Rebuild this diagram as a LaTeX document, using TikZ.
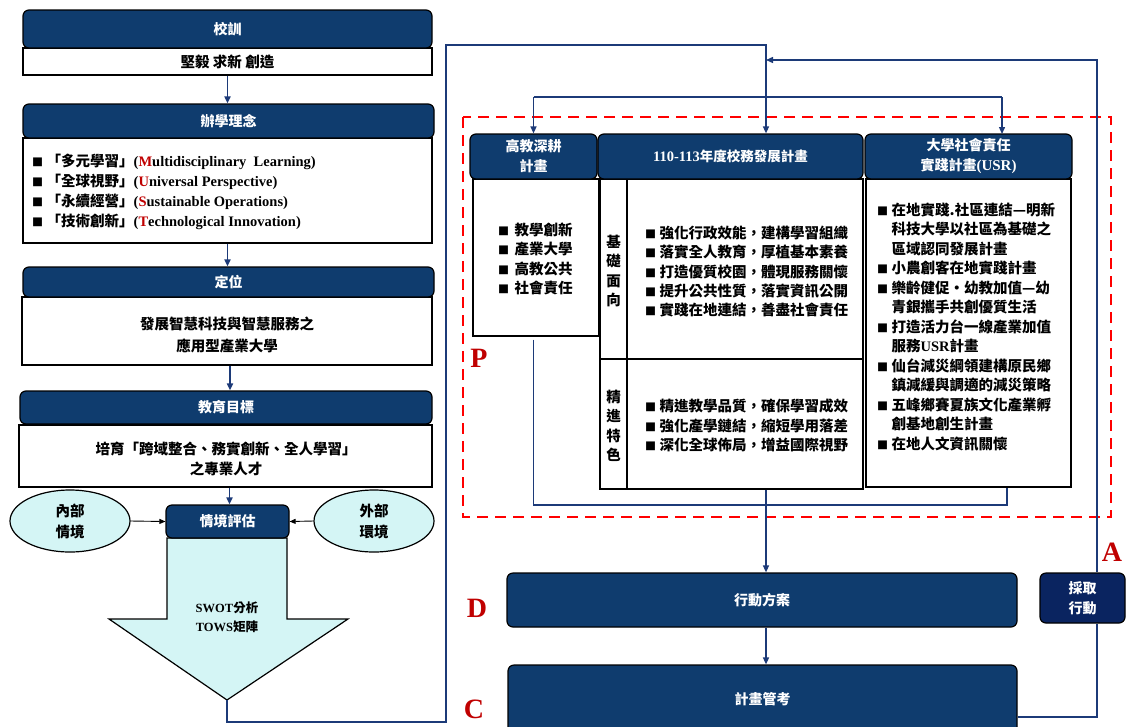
\documentclass[tikz,border=0pt]{standalone}
\usepackage{fontspec}
\setmainfont{Noto Sans CJK TC}
\newfontfamily\lat{Liberation Serif}
\usetikzlibrary{arrows.meta,calc,shapes.geometric}
\definecolor{navy}{HTML}{0F3C6E}
\definecolor{dnavy}{HTML}{0A2460}
\definecolor{lcyan}{HTML}{D4F5F5}
\definecolor{lnk}{HTML}{1C3A78}
\definecolor{mred}{HTML}{C00000}
\newcommand\fs[2]{\fontsize{#1}{#2}\selectfont}
\newcommand\Lt[1]{{\lat\bfseries #1}}
\newcommand\Rd[1]{\textcolor{mred}{#1}}
\newcommand\bul{\makebox[14.5pt][l]{\fs{11}{10}■}}
\newcommand\bulw{\makebox[16.5pt][l]{\fs{11}{10}■}}
\newcommand\ind{\hspace*{14.5pt}}
\begin{document}
\begin{tikzpicture}[x=1pt,y=-1pt,
 hdr/.style={draw=black, line width=1.2pt, fill=navy, rounded corners=6pt, text=white, inner sep=0pt, align=center, font=\bfseries\fs{14}{20}},
 wbox/.style={draw=black, line width=1.4pt, fill=white, inner sep=0pt},
 txt/.style={inner sep=0pt, align=center, font=\bfseries\fs{14.5}{20}},
 lst/.style={inner sep=0pt, align=left, anchor=west, font=\bfseries\fs{14.5}{19.5}},
 link/.style={draw=lnk, line width=1.4pt},
 arr/.style={link, -{Triangle[width=6pt,length=7pt]}},
 blk/.style={draw=black, line width=0.9pt, -{Triangle[width=5pt,length=6pt]}},
 oval/.style={ellipse, draw=black, line width=1.2pt, fill=lcyan, inner sep=0pt, minimum width=120pt, minimum height=62pt, align=center, font=\bfseries\fs{14.5}{21}},
 pdca/.style={text=mred, font=\lat\bfseries\fs{28}{28}, inner sep=0pt}
]
\path[use as bounding box] (0,0) rectangle (1126,726);
\clip (0,0) rectangle (1126,726);
\fill[white] (0,0) rectangle (1126,726);

% ---------- left column ----------
\node[wbox, minimum width=409pt, minimum height=27pt, font=\bfseries\fs{14.5}{20}] (bx1) at (227.5,61.5) {堅毅 求新 創造};
\node[hdr, minimum width=409pt, minimum height=38pt] (hd1) at (227.5,29) {校訓};

\node[wbox, minimum width=409pt, minimum height=105pt] (bx2) at (227.5,190.5) {};
\node[hdr, minimum width=411pt, minimum height=34pt] (hd2) at (228.5,121) {辦學理念};
\node[lst, font=\bfseries\fs{14.5}{20}] (l2) at (32,192) {%
\bul「多元學習」\Lt{(\Rd{M}ultidisciplinary\ \ Learning)}\\
\bul「全球視野」\Lt{(\Rd{U}niversal Perspective)}\\
\bul「永續經營」\Lt{(\Rd{S}ustainable Operations)}\\
\bul「技術創新」\Lt{(\Rd{T}echnological Innovation)}};

\node[wbox, minimum width=410pt, minimum height=68pt] (bx3) at (227,331) {};
\node[hdr, minimum width=411pt, minimum height=30pt] (hd3) at (228.5,282) {定位};
\node[txt, font=\bfseries\fs{14.5}{22}] (t3) at (227,335) {發展智慧科技與智慧服務之\\應用型產業大學};

\node[wbox, minimum width=413pt, minimum height=62pt] (bx4) at (225.5,456) {};
\node[hdr, minimum width=412pt, minimum height=33pt] (hd4) at (226,407.5) {教育目標};
\node[txt] (t4) at (226,459) {培育「跨域整合、務實創新、全人學習」\\之專業人才};

% big arrow
\draw[draw=black, line width=1.2pt, fill=lcyan] (167,538) -- (287,538) -- (287,619) -- (348,619) -- (227,700) -- (109,619) -- (167,619) -- cycle;
\coordinate (tip) at (227,700);
\node[txt, font=\bfseries\fs{12.5}{19}] (sw) at (227,617.5) {\Lt{SWOT}分析\\\Lt{TOWS}矩陣};
\node[hdr, minimum width=123pt, minimum height=33pt] (hd5) at (227.5,521.5) {情境評估};
\node[oval] (e1) at (70,521) {內部\\情境};
\node[oval] (e2) at (374,521) {外部\\環境};

\draw[arr, line width=1.8pt] (bx1.south) -- (bx1.south |- hd2.north);
\draw[arr, line width=1.8pt] (bx2.south) -- (bx2.south |- hd3.north);
\draw[arr, line width=1.8pt] ([xshift=3pt]bx3.south) -- ([xshift=3pt]bx3.south |- hd4.north);
\draw[arr, line width=1.8pt] ([xshift=4pt]bx4.south) -- ([xshift=4pt]bx4.south |- hd5.north);
\draw[blk] (e1.east) -- (hd5.west);
\draw[blk] (e2.west) -- (hd5.east);

% ---------- P block ----------
\draw[draw=red, line width=2.8pt, dash pattern=on 11pt off 7pt] (463,117) rectangle (1111,517);
\node[pdca] (P) at (479,358) {P};

\node[wbox, minimum width=126pt, minimum height=157pt] (bxL) at (536,257.5) {};
\node[hdr] (hdL) at (533.5,156.5) [minimum width=127pt, minimum height=45pt] {高教深耕\\計畫};
\node[lst] (lL) at (498,259) {\bulw 教學創新\\\bulw 產業大學\\\bulw 高教公共\\\bulw 社會責任};

\node[wbox, minimum width=27pt, minimum height=180pt] (lab1) at (613.5,269) {};
\node[wbox, minimum width=236pt, minimum height=180pt] (con1) at (745,269) {};
\node[wbox, minimum width=27pt, minimum height=130pt] (lab2) at (613.5,424) {};
\node[wbox, minimum width=236pt, minimum height=130pt] (con2) at (745,424) {};
\node[hdr, minimum width=265pt, minimum height=45pt, font=\bfseries\fs{13.5}{20}] (hdM) at (730.5,156.5) {\Lt{\fs{14.5}{20}110-113}年度校務發展計畫};
\node[txt, font=\bfseries\fs{14.5}{19.5}] (v1) at (613.5,271) {基\\礎\\面\\向};
\node[txt, font=\bfseries\fs{14.5}{19.5}] (v2) at (613.5,426) {精\\進\\特\\色};
\node[lst, font=\bfseries\fs{14.5}{19.25}] (lc1) at (645,271.5) {%
\bul 強化行政效能，建構學習組織\\
\bul 落實全人教育，厚植基本素養\\
\bul 打造優質校園，體現服務關懷\\
\bul 提升公共性質，落實資訊公開\\
\bul 實踐在地連結，善盡社會責任};
\node[lst] (lc2) at (645,425.5) {%
\bul 精進教學品質，確保學習成效\\
\bul 強化產學鏈結，縮短學用落差\\
\bul 深化全球佈局，增益國際視野};

\node[wbox, minimum width=205pt, minimum height=308pt] (bxU) at (968.5,333) {};
\node[hdr, minimum width=207pt, minimum height=45pt] (hdU) at (968.5,156.5) {大學社會責任\\實踐計畫\Lt{\fs{15}{20}(USR)}};
\node[lst] (lU) at (877,327) {%
\bul 在地實踐.社區連結—明新\\
\ind 科技大學以社區為基礎之\\
\ind 區域認同發展計畫\\
\bul 小農創客在地實踐計畫\\
\bul 樂齡健促·幼教加值—幼\\
\ind 青銀攜手共創優質生活\\
\bul 打造活力台一線產業加值\\
\ind 服務\Lt{USR}計畫\\
\bul 仙台減災綱領建構原民鄉\\
\ind 鎮減緩與調適的減災策略\\
\bul 五峰鄉賽夏族文化產業孵\\
\ind 創基地創生計畫\\
\bul 在地人文資訊關懷};

% ---------- D, C, A ----------
\node[hdr, minimum width=510pt, minimum height=54pt] (act) at (762,600) {行動方案};
\node[hdr, minimum width=509pt, minimum height=68pt] (ctl) at (762.5,699) {計畫管考};
\node[hdr, fill=dnavy, minimum width=85pt, minimum height=50pt] (take) at (1082.5,598) {採取\\行動};
\node[pdca] (D) at (477,608) {D};
\node[pdca] (C) at (474,709) {C};
\node[pdca] (A) at (1112,552) {A};

% ---------- connectors ----------
\coordinate (lb) at (227,722);
\coordinate (lc) at (446,722);
\coordinate (ld) at (446,45);
\coordinate (spine) at (766,60);
\draw[arr] (tip) -- (lb) -- (lc) -- (ld) -| (spine |- hdM.north);

\coordinate (br) at (766,97);
\coordinate (usrin) at (1002,134);
\draw[link] (hdL.north |- br) -- (usrin |- br);
\draw[arr] (hdL.north |- br) -- (hdL.north);
\draw[arr] (usrin |- br) -- (usrin);

\coordinate (jn) at (1007,505);
\draw[link] ($(hdL.north |- bxL.south)+(0,3)$) |- (jn) -- (jn |- bxU.south);
\draw[arr] (spine |- con2.south) -- (spine |- act.north);
\draw[arr] (spine |- act.south) -- (spine |- ctl.north);

\coordinate (rx) at (1097,717);
\draw[link] (ctl.east |- rx) -- (rx) -- (rx |- take.south);
\draw[arr] (rx |- take.north) -- (rx |- spine) -- (spine);
\end{tikzpicture}
\end{document}
